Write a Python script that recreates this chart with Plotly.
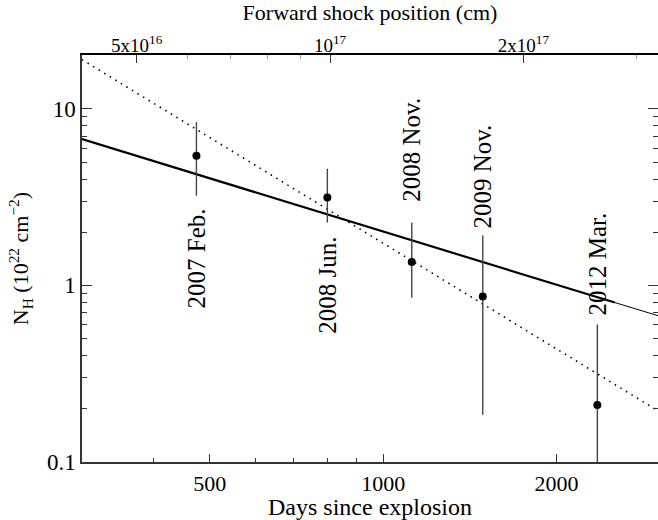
import math
import plotly.graph_objects as go

# ---- data ----
epochs = ["2007 Feb.", "2008 Jun.", "2008 Nov.", "2009 Nov.", "2012 Mar."]
days = [474, 800, 1121, 1489, 2354]
nh = [5.42, 3.15, 1.356, 0.866, 0.21]
nh_hi = [8.41, 4.58, 2.27, 1.92, 0.60]
nh_lo = [3.22, 2.27, 0.852, 0.185, 0.085]

# power-law model lines (endpoints)
fit_days = [300, 2524]
fit_nh = [6.74, 0.80]
ext_days = [2524, 3000]
ext_nh = [0.80, 0.674]
steep_days = [300, 3000]
steep_nh = [19.0, 0.195]

x_ticks = [500, 1000, 2000]
x_minor = [400, 600, 700, 800, 900, 3000]
y_ticks = [0.1, 1, 10]
y_minor = [0.2, 0.3, 0.4, 0.5, 0.6, 0.7, 0.8, 0.9, 2, 3, 4, 5, 6, 7, 8, 9]
r_ticks = [5e16, 1e17, 2e17]
r_labels = ["5x10<sup>16</sup>", "10<sup>17</sup>", "2x10<sup>17</sup>"]
r_minor = [6e16, 7e16, 8e16, 9e16, 3e17]

# ---- layout constants ----
FONT = "Liberation Serif"
XR = [math.log10(300), math.log10(3000)]
YR = [-1, 1.305]
RR = [math.log10(4.11e16), math.log10(3.24e17)]
label_y = [1.43, 1.0, 5.85, 4.12, 1.32]

fig = go.Figure()

fig.add_trace(go.Scatter(x=steep_days, y=steep_nh, mode="lines",
                         line=dict(color="black", width=1.6, dash="1.5px,5px"),
                         hoverinfo="skip", showlegend=False))
fig.add_trace(go.Scatter(x=fit_days, y=fit_nh, mode="lines",
                         line=dict(color="black", width=2.2),
                         hoverinfo="skip", showlegend=False))
fig.add_trace(go.Scatter(x=ext_days, y=ext_nh, mode="lines",
                         line=dict(color="black", width=1.0),
                         hoverinfo="skip", showlegend=False))
fig.add_trace(go.Scatter(
    x=days, y=nh, mode="markers",
    marker=dict(color="black", size=8),
    error_y=dict(type="data", symmetric=False,
                 array=[h - v for h, v in zip(nh_hi, nh)],
                 arrayminus=[v - l for v, l in zip(nh, nh_lo)],
                 color="#444444", thickness=1.4, width=0),
    showlegend=False))

# invisible trace to anchor the top axis
fig.add_trace(go.Scatter(x=r_ticks, y=[1, 1, 1], xaxis="x2", mode="markers",
                         marker=dict(opacity=0), hoverinfo="skip", showlegend=False))

for name, d, yv in zip(epochs, days, label_y):
    fig.add_annotation(x=math.log10(d), y=math.log10(yv), xref="x", yref="y",
                       text=name, textangle=-90, showarrow=False,
                       font=dict(family=FONT, size=25, color="black"))

axis_common = dict(showgrid=False, zeroline=False, ticks="inside",
                   tickcolor="#333333", tickwidth=1.3, showline=True,
                   linecolor="#333333", linewidth=1.5)

fig.update_layout(
    template="none",
    width=658, height=520,
    margin=dict(l=82, r=0, t=55, b=58),
    plot_bgcolor="white", paper_bgcolor="white",
    font=dict(family=FONT, size=22, color="black"),
    xaxis=dict(type="log", range=XR, tickvals=x_ticks,
               ticktext=[str(v) for v in x_ticks], ticklen=8,
               ticklabelstandoff=1,
               tickfont=dict(family=FONT, size=22, color="black"),
               title=dict(text="Days since explosion",
                          font=dict(family=FONT, size=24, color="black"), standoff=5),
               mirror=False, **axis_common),
    xaxis2=dict(type="log", range=RR, overlaying="x", side="top", anchor="y",
                tickvals=r_ticks, ticktext=r_labels, ticklen=8,
                ticklabelstandoff=-6,
                tickfont=dict(family=FONT, size=19, color="black"),
                title=dict(text="Forward shock position (cm)",
                           font=dict(family=FONT, size=22, color="black"), standoff=8),
                showgrid=False, zeroline=False, ticks="inside", tickcolor="#333333",
                tickwidth=1.3, showline=True, linecolor="black", linewidth=1.5),
    xaxis3=dict(type="log", range=XR, overlaying="x", side="bottom", anchor="y",
                tickvals=x_minor, ticks="inside", ticklen=4, tickwidth=1.1,
                tickcolor="#333333", showticklabels=False, showgrid=False,
                zeroline=False, showline=False),
    xaxis4=dict(type="log", range=RR, overlaying="x", side="top", anchor="y",
                tickvals=r_minor, ticks="inside", ticklen=4, tickwidth=1,
                tickcolor="#999999", showticklabels=False, showgrid=False,
                zeroline=False, showline=False),
    yaxis=dict(type="log", range=YR, tickvals=y_ticks,
               ticktext=["0.1", "1", "10"], ticklen=10, mirror="ticks",
               tickfont=dict(family=FONT, size=23, color="black"),
               title=dict(text="N<sub>H</sub> (10<sup>22</sup> cm<sup>\u22122</sup>)",
                          font=dict(family=FONT, size=22, color="black"), standoff=12),
               **axis_common),
    yaxis2=dict(type="log", range=YR, overlaying="y", side="left", anchor="x",
                tickvals=y_minor, ticks="inside", ticklen=5, tickwidth=1.1,
                tickcolor="#333333", showticklabels=False, showgrid=False,
                zeroline=False, showline=False, mirror="ticks"),
)

fig.add_trace(go.Scatter(x=[1000], y=[1], xaxis="x3", yaxis="y2", mode="markers",
                         marker=dict(opacity=0), hoverinfo="skip", showlegend=False))
fig.add_trace(go.Scatter(x=[1e17], y=[1], xaxis="x4", mode="markers",
                         marker=dict(opacity=0), hoverinfo="skip", showlegend=False))

fig.write_html("out.html")
